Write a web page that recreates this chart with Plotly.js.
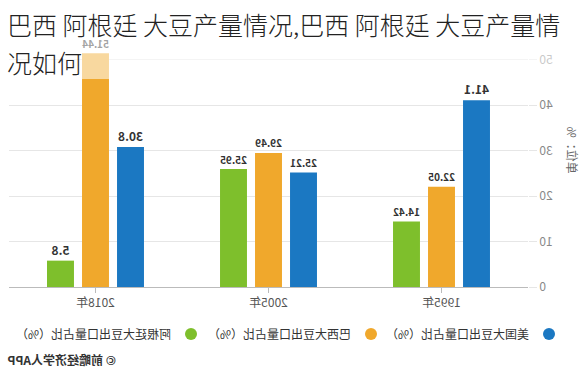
<!DOCTYPE html>
<html>
<head>
<meta charset="utf-8">
<script src="https://cdn.plot.ly/plotly-3.0.1.min.js"></script>
<style>
  html, body { margin:0; padding:0; background:#fff; }
  #wrap { position:relative; width:586px; height:371px; overflow:hidden; }
  #chart { position:absolute; left:0; top:0; width:586px; height:371px; transform:scaleX(-1); }
  #title { position:absolute; left:0; top:0; width:586px; height:79px; box-sizing:border-box;
           padding:5px 0 0 7px; background:rgba(255,255,255,0.55);
           font-family:"Noto Sans CJK SC","Noto Sans",sans-serif; font-weight:300;
           font-size:25px; line-height:38px; color:#222; white-space:nowrap; }
</style>
</head>
<body>
<div id="wrap">
  <div id="chart"></div>
  <div id="title">巴西 阿根廷 大豆产量情况,巴西 阿根廷 大豆产量情<br>况如何</div>
</div>
<script>
const categories = ["1995年", "2005年", "2018年"];
const usShare = [41.1, 25.21, 30.8];
const brazilShare = [22.05, 29.49, 51.44];
const argentinaShare = [14.42, 25.95, 5.8];
const seriesNames = ["美国大豆出口量占比（%）", "巴西大豆出口量占比（%）", "阿根廷大豆出口量占比（%）"];
const colors = ["#1b78c2", "#f0a82c", "#7ebf2c"];
const yTicks = [0, 10, 20, 30, 40, 50];

const FONT = '"Noto Sans CJK SC","Noto Sans",sans-serif';
const values = [usShare, brazilShare, argentinaShare];
const legendIds = ['legend', 'legend2', 'legend3'];
const legendX = [-0.079, 0.264, 0.6108];

const traces = [];
values.forEach((v, i) => {
  traces.push({
    type: 'bar', x: categories, y: v, name: seriesNames[i],
    marker: {color: colors[i]},
    text: v.map(String), textposition: 'outside', cliponaxis: false,
    textfont: {family: FONT, size: 12, color: '#333', weight: 'bold'},
    showlegend: false, hoverinfo: 'skip'
  });
});
values.forEach((v, i) => {
  traces.push({
    type: 'scatter', mode: 'markers', x: [null], y: [null], name: seriesNames[i],
    marker: {color: colors[i], size: 12, symbol: 'circle'},
    legend: legendIds[i],
    showlegend: true, hoverinfo: 'skip'
  });
});

const layout = {
  width: 586, height: 371,
  margin: {l: 58, r: 9, t: 37, b: 84},
  paper_bgcolor: '#fff', plot_bgcolor: '#fff',
  font: {family: FONT, size: 12, color: '#555'},
  barmode: 'group', bargap: 0.393, bargroupgap: 0.23,
  showlegend: true,
  xaxis: {type: 'category', showline: true, linecolor: '#bbb', linewidth: 1,
          ticks: 'outside', ticklen: 5, tickcolor: '#bbb', showgrid: false,
          tickfont: {family: FONT, size: 12, color: '#555'}, fixedrange: true},
  yaxis: {range: [0, 55], tickvals: yTicks, ticktext: yTicks.map(String),
          showgrid: true, gridcolor: '#e6e6e6', zeroline: false,
          ticks: 'outside', ticklen: 8, tickcolor: '#e6e6e6',
          tickfont: {family: FONT, size: 12, color: '#888'}, fixedrange: true},
  annotations: [
    {text: '单位：%', xref: 'paper', yref: 'paper', x: -0.087, y: 0.548,
     xanchor: 'center', yanchor: 'middle',
     textangle: -90, showarrow: false, font: {family: FONT, size: 12, color: '#666'}},
    {text: '<b>© 前瞻经济学人APP</b>', xref: 'paper', yref: 'paper', x: 1.0077, y: -0.288,
     xanchor: 'right', yanchor: 'middle', showarrow: false,
     font: {family: FONT, size: 12, color: '#333'}}
  ]
};
legendIds.forEach((id, i) => {
  layout[id] = {orientation: 'h', x: legendX[i], xanchor: 'left', y: -0.188, yanchor: 'middle',
                font: {family: FONT, size: 12, color: '#333'}, bgcolor: 'rgba(0,0,0,0)'};
});

Plotly.newPlot('chart', traces, layout, {displayModeBar: false, staticPlot: true});
</script>
</body>
</html>
